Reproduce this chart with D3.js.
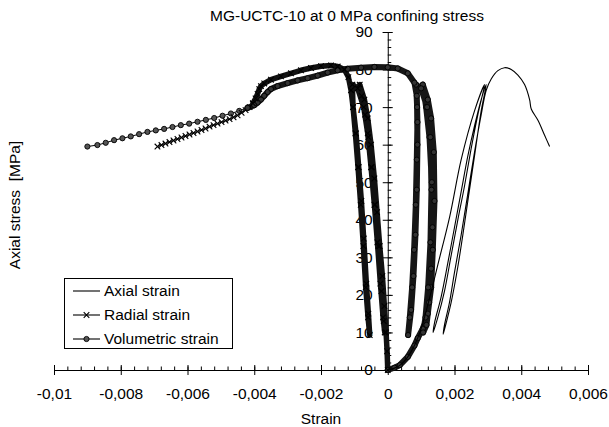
<!DOCTYPE html>
<html><head><meta charset="utf-8">
<script src="https://cdn.jsdelivr.net/npm/d3@7"></script>
<style>body{margin:0;background:#fff}svg{display:block;font-family:"Liberation Sans",Arial,sans-serif}</style>
</head><body><svg id="c" width="609" height="427"></svg>
<script>
const titleText = "MG-UCTC-10 at 0 MPa confining stress";
const xLabelText = "Strain";
const yLabelText = "Axial stress  [MPa]";
const seriesNames = ["Axial strain", "Radial strain", "Volumetric strain"];

const xTickValues = [-0.01,-0.008,-0.006,-0.004,-0.002,0,0.002,0.004,0.006];
const xTickLabels = ["-0,01","-0,008","-0,006","-0,004","-0,002","0","0,002","0,004","0,006"];
const yTickValues = [0,10,20,30,40,50,60,70,80,90];
const yTickLabels = ["0","10","20","30","40","50","60","70","80","90"];

// Axial strain (line only)
const axialStrain = [0,0.0002,0.0004,0.0006,0.0008,0.001,0.00126,0.0015,0.00186,0.0022,0.0026,0.0029,
  0.0027,0.0025,0.0023,0.0021,0.0019,0.0017,0.0015,0.00136,
  0.0014,0.0016,0.0018,0.002,0.0022,0.0024,0.0026,0.0028,0.00295,
  0.0028,0.0026,0.0024,0.00225,0.0021,0.0019,0.00175,0.00166,
  0.0017,0.00185,0.002,0.0022,0.0024,0.0026,0.0028,0.00295,0.0031,0.0033,0.0035,0.0037,0.0039,0.0041,0.00425,0.0043,0.0045,0.0047,0.00485];
const axialStress = [0,0.5,1.5,3.5,6.5,11,19.4,28,41,56,69,76,
  68,59,49,40,30.5,21,14,10,
  12.5,19.5,28.5,38,47.5,57,65,72,76,
  69,57,45,36,27.5,18,12.5,9.5,
  12,18,26,36,47,58,68,74.5,77.5,79.7,80.5,80,78.5,76,72,69.5,66.5,62.5,59.5];

// Radial strain: densely recorded cycles and peak
const radialStrain = [0,-0.00002,-0.00005,-0.0001,-0.00016,-0.00024,-0.00032,-0.0004,-0.0005,-0.0006,-0.0007,-0.00084,
  -0.00078,-0.00068,-0.00058,-0.00048,-0.00038,-0.00028,-0.00019,-0.00012,-0.00009,
  -0.00014,-0.00022,-0.00031,-0.0004,-0.0005,-0.0006,-0.00072,-0.0009,-0.00106,
  -0.00104,-0.00095,-0.00087,-0.00079,-0.00072,-0.00064,-0.00058,-0.00054,
  -0.00059,-0.00066,-0.00073,-0.00081,-0.00089,-0.00097,-0.00104,-0.0011,-0.00118,-0.0013,-0.0015,-0.0017,-0.002,-0.0023,-0.0026,-0.0029,-0.0032,-0.0035,-0.0037,-0.0038,-0.00385,-0.0039,-0.00396,-0.00404];
const radialStress = [0,5,10,17,25,33,42,51,60,67,72,76,
  73,68,62,54,44,33,21,13,10,
  14,23,34,44,54,63,70,75,76,
  70,63,54,45,35,23,15,9.3,
  14,22,33,44,54,63,70,74.5,78,80,80.8,81.1,80.9,80.4,79.8,79,78.2,77.3,76.3,75.6,74.8,73.5,72.3,71];
// Radial strain: post-peak points
const radialTailStrain = [-0.00404,-0.00414,-0.00426,-0.00438,-0.0045,-0.00462,-0.00474,-0.00486,-0.00498,-0.0051,-0.00522,-0.00534,-0.00546,-0.00558,-0.0057,-0.00582,-0.00594,-0.00606,-0.00618,-0.0063,-0.00642,-0.00654,-0.00666,-0.00678,-0.0069];
const radialTailStress = [71,70,69.2,68.5,67.8,67.3,66.8,66.4,66,65.6,65.2,64.8,64.3,63.9,63.5,63.1,62.7,62.3,61.9,61.5,61.1,60.7,60.3,59.9,59.5];

// Volumetric strain: densely recorded cycles and peak
const volStrain = [0,0.0002,0.00036,0.0006,0.0008,0.0009,0.00105,0.0012,0.0013,0.00135,0.0014,0.00138,0.0013,0.0012,0.00105,
  0.00115,0.00125,0.00132,0.00134,0.0013,0.00124,0.00116,0.00106,
  0.00113,0.00121,0.00128,0.00131,0.00128,0.00118,0.001,0.00085,
  0.00088,0.00089,0.00087,0.00083,0.00077,0.0007,0.00061,
  0.00066,0.00073,0.00079,0.00084,0.00087,0.00089,0.00087,0.0008,0.0006,0.0003,0,-0.0004,-0.0008,-0.0012,-0.0015,-0.0018,-0.0021,-0.0024,-0.0027,-0.003,-0.0033,-0.0035,-0.0036,-0.0037,-0.0038,-0.0039,-0.004,-0.0042];
const volStress = [0,0.6,1.3,3.5,6.5,8.5,11,15,22,32,45,58,67,72,76,
  70,62,50,38,27,18,12,10,
  14,22,34,48,62,70,75,76,
  70,60,48,36,25,16,9.3,
  14,22,32,44,56,66,73,76.5,79,80.3,80.6,80.7,80.5,80.2,79.8,79.2,78.4,77.7,77.1,76.4,75.6,74.8,74,73,72,71.2,70.5,69.8];
// Volumetric strain: post-peak points
const volTailStrain = [-0.0042,-0.00445,-0.0047,-0.00495,-0.0052,-0.00545,-0.0057,-0.00595,-0.0062,-0.00645,-0.0067,-0.00695,-0.0072,-0.00745,-0.0077,-0.00795,-0.0082,-0.00845,-0.0087,-0.009];
const volTailStress = [69.8,69.0,68.3,67.7,67.1,66.6,66.1,65.6,65.2,64.7,64.2,63.8,63.4,62.8,62.2,61.7,61.2,60.5,59.9,59.5];

const svg = d3.select("#c");
const FS = 15.5;
const x = d3.scaleLinear().domain([-0.01, 0.006]).range([54, 588]);
const y = d3.scaleLinear().domain([0, 90]).range([370, 32]);
const zip = (a, b) => a.map((v, i) => [v, b[i]]);
const line = d3.line().x(d => x(d[0])).y(d => y(d[1]));

// minor ticks
const xMinor = d3.range(-0.01, 0.00601, 0.0004).map(v => +v.toFixed(5));
const yMinor = d3.range(0, 90.1, 2);
svg.append("g").attr("transform", `translate(0,${y(0)})`)
  .call(d3.axisBottom(x).tickValues(xMinor).tickSize(-3.5).tickSizeOuter(0).tickFormat(""))
  .call(g => g.select(".domain").remove())
  .selectAll("line").attr("stroke", "#000");
svg.append("g").attr("transform", `translate(${x(0)},0)`)
  .call(d3.axisLeft(y).tickValues(yMinor).tickSize(-3.5).tickSizeOuter(0).tickFormat(""))
  .call(g => g.select(".domain").remove())
  .selectAll("line").attr("stroke", "#000");

// major axes
const gx = svg.append("g").attr("transform", `translate(0,${y(0)})`)
  .call(d3.axisBottom(x).tickValues(xTickValues).tickSizeOuter(0).tickSize(5).tickPadding(13)
    .tickFormat((d, i) => xTickLabels[i]));
gx.selectAll(".tick line").attr("y1", -5).attr("y2", 5).attr("stroke", "#000");
gx.select(".domain").attr("stroke", "#000");
gx.selectAll("text").attr("font-size", FS).attr("font-family", "Liberation Sans, Arial, sans-serif").attr("fill", "#000");

const gy = svg.append("g").attr("transform", `translate(${x(0)},0)`)
  .call(d3.axisLeft(y).tickValues(yTickValues).tickSizeOuter(0).tickSize(5).tickPadding(10)
    .tickFormat((d, i) => yTickLabels[i]));
gy.selectAll(".tick line").attr("x1", -5).attr("x2", 5).attr("stroke", "#000");
gy.select(".domain").attr("stroke", "#000");
gy.selectAll("text").attr("font-size", FS).attr("font-family", "Liberation Sans, Arial, sans-serif").attr("fill", "#000");

// titles
svg.append("text").attr("x", 347).attr("y", 21).attr("text-anchor", "middle")
  .attr("font-size", FS).text(titleText);
svg.append("text").attr("x", 321).attr("y", 424).attr("text-anchor", "middle")
  .attr("font-size", FS).text(xLabelText);
svg.append("text").attr("transform", "translate(20,205) rotate(-90)").attr("text-anchor", "middle")
  .attr("font-size", FS).style("white-space", "pre").text(yLabelText);

// markers
function xMark(g, cx, cy, s) {
  g.append("path").attr("d", `M${cx - s},${cy - s}L${cx + s},${cy + s}M${cx - s},${cy + s}L${cx + s},${cy - s}`)
    .attr("stroke", "#000").attr("stroke-width", 1.1).attr("fill", "none");
}
function oMark(g, cx, cy, r, fill) {
  g.append("circle").attr("cx", cx).attr("cy", cy).attr("r", r)
    .attr("fill", fill || "#555").attr("stroke", "#000").attr("stroke-width", 0.9);
}

const data = svg.append("g");
// volumetric dense band
data.append("path").datum(zip(volStrain, volStress)).attr("d", line)
  .attr("fill", "none").attr("stroke", "#161616").attr("stroke-width", 6).attr("stroke-linejoin", "round").attr("stroke-linecap", "round");
// radial dense band
data.append("path").datum(zip(radialStrain, radialStress)).attr("d", line)
  .attr("fill", "none").attr("stroke", "#111").attr("stroke-width", 5.5).attr("stroke-linejoin", "round").attr("stroke-linecap", "round");
// tails
data.append("path").datum(zip(volTailStrain, volTailStress)).attr("d", line)
  .attr("fill", "none").attr("stroke", "#000").attr("stroke-width", 1);
data.append("path").datum(zip(radialTailStrain, radialTailStress)).attr("d", line)
  .attr("fill", "none").attr("stroke", "#000").attr("stroke-width", 1);
zip(volTailStrain, volTailStress).forEach(d => oMark(data, x(d[0]), y(d[1]), 2.6));
zip(radialTailStrain, radialTailStress).forEach(d => xMark(data, x(d[0]), y(d[1]), 2.8));
zip(volStrain, volStress).forEach(d => oMark(data, x(d[0]), y(d[1]), 2.6, "#333"));
zip(radialStrain, radialStress).forEach(d => xMark(data, x(d[0]), y(d[1]), 2.8));
// axial
data.append("path").datum(zip(axialStrain, axialStress)).attr("d", d3.line().x(d => x(d[0])).y(d => y(d[1])).curve(d3.curveCatmullRom.alpha(0.5)))
  .attr("fill", "none").attr("stroke", "#000").attr("stroke-width", 1.1);

// legend
const lg = svg.append("g");
lg.append("rect").attr("x", 64.5).attr("y", 278.5).attr("width", 168).attr("height", 70)
  .attr("fill", "#fff").attr("stroke", "#000").attr("stroke-width", 1);
seriesNames.forEach((name, i) => {
  const cy = 291 + i * 24;
  lg.append("line").attr("x1", 73).attr("x2", 100).attr("y1", cy).attr("y2", cy).attr("stroke", "#000").attr("stroke-width", 1.1);
  if (i === 1) xMark(lg, 86.5, cy, 2.8);
  if (i === 2) oMark(lg, 86.5, cy, 2.6);
  lg.append("text").attr("x", 104).attr("y", cy).attr("dy", "0.35em").attr("font-size", FS).text(name);
});
</script></body></html>
